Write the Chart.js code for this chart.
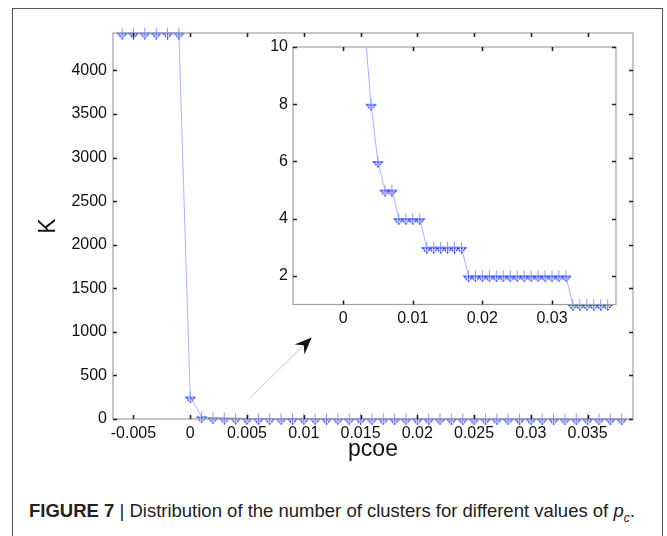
<!DOCTYPE html>
<html>
<head>
<meta charset="utf-8">
<script src="https://cdn.jsdelivr.net/npm/chart.js@4.4.1/dist/chart.umd.min.js"></script>
<style>
  html, body { margin: 0; padding: 0; background: #fff; width: 667px; height: 536px; overflow: hidden; }
  #frame { position: absolute; left: 12px; top: 8px; width: 651px; height: 540px; border: 1px solid #555; box-sizing: border-box; }
  #main { position: absolute; left: 0; top: 0; }
  #inset { position: absolute; left: 250px; top: 30px; }
  #caption { position: absolute; left: 29px; top: 500px; font-family: 'Liberation Sans Narrow', 'Liberation Sans', Arial, sans-serif; font-size: 18.5px; color: #222; white-space: nowrap; }
  #caption b { font-weight: bold; }
</style>
</head>
<body>
<div id="frame"></div>
<canvas id="main" width="667" height="470"></canvas>
<canvas id="inset" width="390" height="310"></canvas>
<div id="caption"><b>FIGURE 7</b> | Distribution of the number of clusters for different values of <i>p</i><sub style="font-size:12px"><i>c</i></sub>.</div>
<script>
// ---- data ----
const pcoe = [-0.006, -0.005, -0.004, -0.003, -0.002, -0.001, 0,
  0.001, 0.002, 0.003, 0.004, 0.005, 0.006, 0.007, 0.008, 0.009, 0.010,
  0.011, 0.012, 0.013, 0.014, 0.015, 0.016, 0.017, 0.018, 0.019, 0.020,
  0.021, 0.022, 0.023, 0.024, 0.025, 0.026, 0.027, 0.028, 0.029, 0.030,
  0.031, 0.032, 0.033, 0.034, 0.035, 0.036, 0.037, 0.038];
const K = [4430, 4430, 4430, 4430, 4430, 4430, 253,
  25, 14, 11, 8, 6, 5, 5, 4, 4, 4,
  4, 3, 3, 3, 3, 3, 3, 2, 2, 2,
  2, 2, 2, 2, 2, 2, 2, 2, 2, 2,
  2, 2, 1, 1, 1, 1, 1, 1];
const mainXTicks = [-0.005, 0, 0.005, 0.01, 0.015, 0.02, 0.025, 0.03, 0.035];
const mainXLabels = ['-0.005', '0', '0.005', '0.01', '0.015', '0.02', '0.025', '0.03', '0.035'];
const mainYTicks = [0, 500, 1000, 1500, 2000, 2500, 3000, 3500, 4000];
const insetXTicks = [0, 0.01, 0.02, 0.03];
const insetXLabels = ['0', '0.01', '0.02', '0.03'];
const insetYTicks = [2, 4, 6, 8, 10];
const arrowFrom = [0.0053, 247];
const arrowTo = [0.0107, 935];

const points = pcoe.map((x, i) => ({ x: x, y: K[i] }));

// ---- marker: light "+" with dashed dark-blue downward triangle ----
function makeMarker() {
  const c = document.createElement('canvas');
  c.width = 13; c.height = 13;
  const g = c.getContext('2d');
  g.strokeStyle = '#8f9cff'; g.lineWidth = 1;
  g.beginPath();
  g.moveTo(1, 6.5); g.lineTo(12, 6.5);
  g.moveTo(6.5, 1); g.lineTo(6.5, 12);
  g.stroke();
  g.strokeStyle = '#1d35ff'; g.lineWidth = 1.3;
  g.setLineDash([2, 1.2]);
  g.beginPath();
  g.moveTo(2.5, 7.5); g.lineTo(10.5, 7.5); g.lineTo(6.5, 12); g.closePath();
  g.stroke();
  return c;
}
const marker = makeMarker();

const font = "'Liberation Sans', Arial, sans-serif";

// frame + inward ticks
const boxPlugin = {
  id: 'boxTicks',
  afterDraw(chart) {
    const ctx = chart.ctx, a = chart.chartArea;
    const L = 4;
    ctx.save();
    ctx.strokeStyle = '#a0a0a0'; ctx.lineWidth = 1.2;
    ctx.strokeRect(a.left, a.top, a.right - a.left, a.bottom - a.top);
    ctx.strokeStyle = '#222'; ctx.lineWidth = 1.6;
    ctx.beginPath();
    chart.scales.x.ticks.forEach(t => {
      const px = Math.round(chart.scales.x.getPixelForValue(t.value)) + 0.5;
      ctx.moveTo(px, a.bottom); ctx.lineTo(px, a.bottom - L);
      ctx.moveTo(px, a.top); ctx.lineTo(px, a.top + L);
    });
    chart.scales.y.ticks.forEach(t => {
      const py = Math.round(chart.scales.y.getPixelForValue(t.value)) + 0.5;
      ctx.moveTo(a.left, py); ctx.lineTo(a.left + L, py);
      ctx.moveTo(a.right, py); ctx.lineTo(a.right - L, py);
    });
    ctx.stroke();
    ctx.restore();
  }
};

const arrowPlugin = {
  id: 'arrow',
  afterDraw(chart) {
    if (!chart.options.plugins.arrow || !chart.options.plugins.arrow.show) return;
    const xs = chart.scales.x, ys = chart.scales.y, ctx = chart.ctx;
    const x1 = xs.getPixelForValue(arrowFrom[0]), y1 = ys.getPixelForValue(arrowFrom[1]);
    const x2 = xs.getPixelForValue(arrowTo[0]), y2 = ys.getPixelForValue(arrowTo[1]);
    const ang = Math.atan2(y2 - y1, x2 - x1);
    ctx.save();
    ctx.strokeStyle = '#c8c8c8'; ctx.lineWidth = 1;
    ctx.beginPath(); ctx.moveTo(x1, y1); ctx.lineTo(x2 - 10 * Math.cos(ang), y2 - 10 * Math.sin(ang)); ctx.stroke();
    ctx.translate(x2, y2); ctx.rotate(ang);
    ctx.fillStyle = '#111';
    ctx.beginPath();
    ctx.moveTo(0, 0); ctx.lineTo(-17, -7); ctx.lineTo(-11, 0); ctx.lineTo(-17, 7); ctx.closePath();
    ctx.fill();
    ctx.restore();
  }
};

function fixTicks(vals) {
  return function (scale) { scale.ticks = vals.map(v => ({ value: v })); };
}

// ---- main chart ----
new Chart(document.getElementById('main'), {
  type: 'scatter',
  data: { datasets: [{
    data: points, showLine: true,
    borderColor: '#aab3ff', borderWidth: 1,
    pointStyle: marker, pointRadius: 3,
    clip: { left: 10, top: 10, right: 10, bottom: 10 }
  }] },
  options: {
    responsive: false, animation: false, events: [],
    layout: { padding: { left: 0, top: 33, right: 34, bottom: 0 } },
    plugins: { legend: { display: false }, tooltip: { enabled: false }, arrow: { show: true } },
    scales: {
      x: {
        type: 'linear', min: -0.0068, max: 0.039,
        afterBuildTicks: fixTicks(mainXTicks),
        afterFit: s => { s.height = 51; },
        grid: { display: false, drawTicks: false },
        border: { display: false },
        ticks: { color: '#111', font: { family: font, size: 16 }, padding: 5, maxRotation: 0, autoSkip: false,
          callback: (v) => { const i = mainXTicks.indexOf(v); return i >= 0 ? mainXLabels[i] : ''; } },
        title: { display: true, text: 'pcoe', color: '#111', font: { family: font, size: 23 }, padding: { top: 0, bottom: 7 } }
      },
      y: {
        type: 'linear', min: 0, max: 4430,
        afterBuildTicks: fixTicks(mainYTicks),
        afterFit: s => { s.width = 113; },
        grid: { display: false, drawTicks: false },
        border: { display: false },
        ticks: { color: '#111', font: { family: font, size: 16 }, padding: 6, autoSkip: false,
          callback: v => String(v) },
        title: { display: true, text: 'K', color: '#111', font: { family: font, size: 23 }, padding: { top: 35, bottom: 0 } }
      }
    }
  },
  plugins: [boxPlugin, arrowPlugin]
});

// ---- inset chart ----
new Chart(document.getElementById('inset'), {
  type: 'scatter',
  data: { datasets: [{
    data: points, showLine: true,
    borderColor: '#aab3ff', borderWidth: 1,
    pointStyle: marker, pointRadius: 3,
    clip: { left: 10, top: 0, right: 10, bottom: 10 }
  }] },
  options: {
    responsive: false, animation: false, events: [],
    layout: { padding: { left: 0, top: 17, right: 24, bottom: 0 } },
    plugins: { legend: { display: false }, tooltip: { enabled: false } },
    scales: {
      x: {
        type: 'linear', min: -0.0072, max: 0.0392,
        afterBuildTicks: fixTicks(insetXTicks),
        afterFit: s => { s.height = 35.5; },
        grid: { display: false, drawTicks: false },
        border: { display: false },
        ticks: { color: '#111', font: { family: font, size: 16 }, padding: 4, maxRotation: 0, autoSkip: false,
          callback: (v) => { const i = insetXTicks.indexOf(v); return i >= 0 ? insetXLabels[i] : ''; } }
      },
      y: {
        type: 'linear', min: 1, max: 10,
        afterBuildTicks: fixTicks(insetYTicks),
        afterFit: s => { s.width = 43; },
        grid: { display: false, drawTicks: false },
        border: { display: false },
        ticks: { color: '#111', font: { family: font, size: 16 }, padding: 5, autoSkip: false,
          callback: v => String(v) }
      }
    }
  },
  plugins: [boxPlugin]
});
</script>
</body>
</html>
